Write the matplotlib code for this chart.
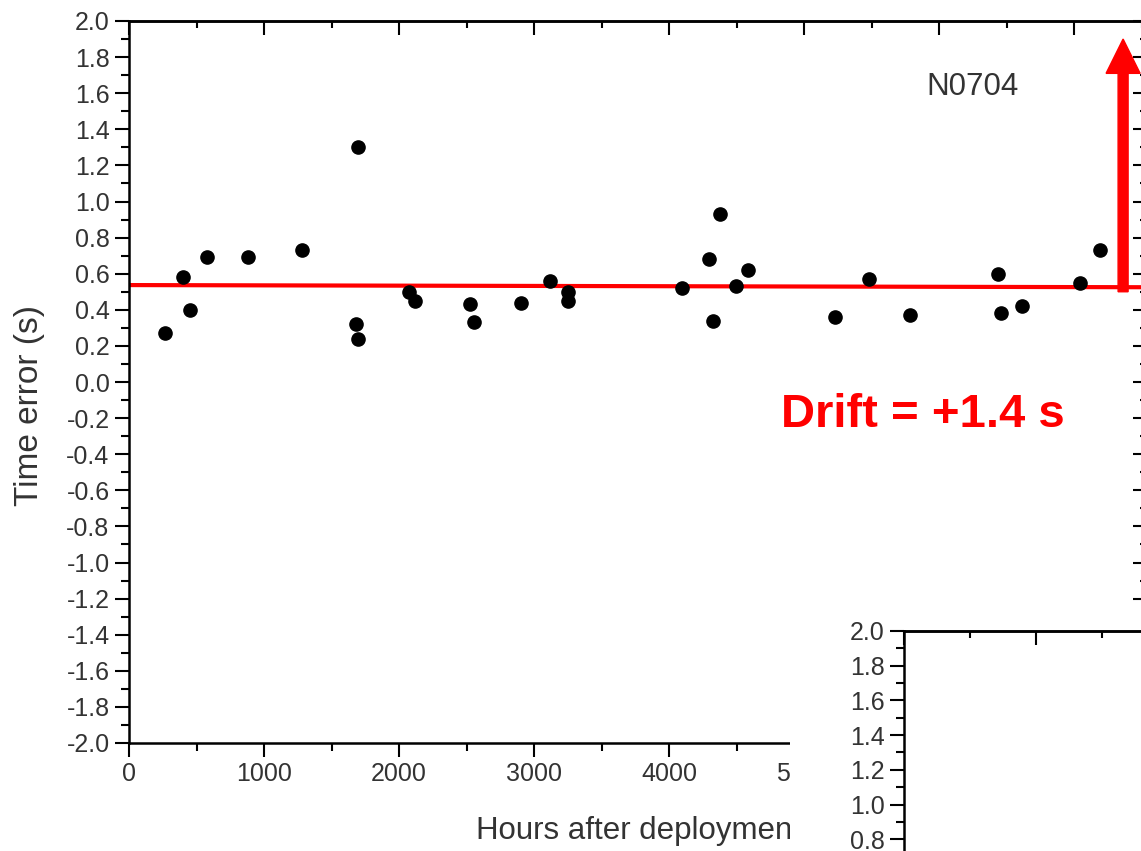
import matplotlib.pyplot as plt
from matplotlib.ticker import MultipleLocator, FormatStrFormatter
from matplotlib.patches import Rectangle

plt.rcParams['font.family'] = ['Liberation Sans', 'DejaVu Sans']
plt.rcParams['axes.unicode_minus'] = False

# clock error of station N0704 against time since deployment
hours = [267, 400, 452, 578, 881, 1281, 1696, 1681, 1696, 2074, 2119,
         2526, 2556, 2904, 3119, 3252, 3252, 4096, 4296, 4326, 4378,
         4496, 4585, 5230, 5481, 5785, 6437, 6459, 6615, 7044, 7193]
time_err = [0.27, 0.58, 0.40, 0.69, 0.69, 0.73, 1.30, 0.32, 0.24, 0.50, 0.45,
            0.43, 0.33, 0.44, 0.56, 0.50, 0.45, 0.52, 0.68, 0.34, 0.93,
            0.53, 0.62, 0.36, 0.57, 0.37, 0.60, 0.38, 0.42, 0.55, 0.73]

# linear fit through the points
fit_hours = [0, 7540]
fit_err = [0.537, 0.525]

drift = 1.4
drift_base = 0.50
drift_hours = 7363

W, H = 1141, 851
fig = plt.figure(figsize=(W / 100, H / 100), dpi=100)
fig.patch.set_facecolor('white')

tick_col = '#333333'


def style_axes(a, xlim, ylim, right_side=True):
    a.set_xlim(*xlim)
    a.set_ylim(*ylim)
    for s in a.spines.values():
        s.set_linewidth(1.8)
    a.xaxis.set_major_locator(MultipleLocator(1000))
    a.xaxis.set_minor_locator(MultipleLocator(500))
    a.yaxis.set_major_locator(MultipleLocator(0.2))
    a.yaxis.set_minor_locator(MultipleLocator(0.1))
    a.yaxis.set_major_formatter(FormatStrFormatter('%.1f'))
    a.tick_params(which='major', direction='out', length=10, width=1.5,
                  labelsize=18, labelcolor=tick_col, pad=4)
    a.tick_params(which='minor', direction='out', length=5.5, width=1.5)

    # top and right ticks point inwards
    top = a.secondary_xaxis('top')
    top.xaxis.set_major_locator(MultipleLocator(1000))
    top.xaxis.set_minor_locator(MultipleLocator(500))
    top.tick_params(which='major', direction='in', length=10, width=1.5, labeltop=False)
    top.tick_params(which='minor', direction='in', length=5, width=1.5)
    top.spines['top'].set_linewidth(1.8)

    if right_side:
        right = a.secondary_yaxis('right')
        right.yaxis.set_major_locator(MultipleLocator(0.2))
        right.yaxis.set_minor_locator(MultipleLocator(0.1))
        right.tick_params(which='major', direction='in', length=10, width=1.5, labelright=False)
        right.tick_params(which='minor', direction='in', length=5, width=1.5)
        right.spines['right'].set_linewidth(1.8)


# main panel
ax = fig.add_axes([129 / W, 108 / H, 1018 / W, 722 / H])
style_axes(ax, (0, 7540), (-2, 2))

ax.plot(fit_hours, fit_err, color='red', lw=3, zorder=2)
ax.plot(hours, time_err, 'o', color='black', ms=9.5, zorder=3)

ax.arrow(drift_hours, drift_base, 0, drift, width=74, head_width=252,
         head_length=0.19, length_includes_head=True, color='red',
         clip_on=False, zorder=4)
ax.text(4830, -0.249, f'Drift = +{drift} s', color='red', fontsize=34,
        fontweight='bold', ha='left', va='baseline')
ax.text(5904, 1.59, 'N0704', color=tick_col, fontsize=22.5,
        ha='left', va='baseline')

ax.set_xlabel('Hours after deployment', fontsize=22.5, color=tick_col)
ax.set_ylabel('Time error (s)', fontsize=24, color=tick_col)
ax.xaxis.set_label_coords(0.5, -0.101)
ax.yaxis.set_label_coords(-0.083, 0.468)

# next panel overlapping the lower right corner
fig.add_artist(Rectangle((790 / W, 0), (W - 790) / W, 244 / H,
                         transform=fig.transFigure, facecolor='white',
                         edgecolor='none', zorder=5))
ins = fig.add_axes([904 / W, 0, (W - 904) / W, 220 / H], zorder=6)
style_axes(ins, (0, 1795), (0.732, 2.0), right_side=False)
ins.spines['bottom'].set_visible(False)
ins.spines['right'].set_visible(False)
ins.tick_params(axis='x', bottom=False, labelbottom=False)

fig.savefig('out.png', dpi=100)
